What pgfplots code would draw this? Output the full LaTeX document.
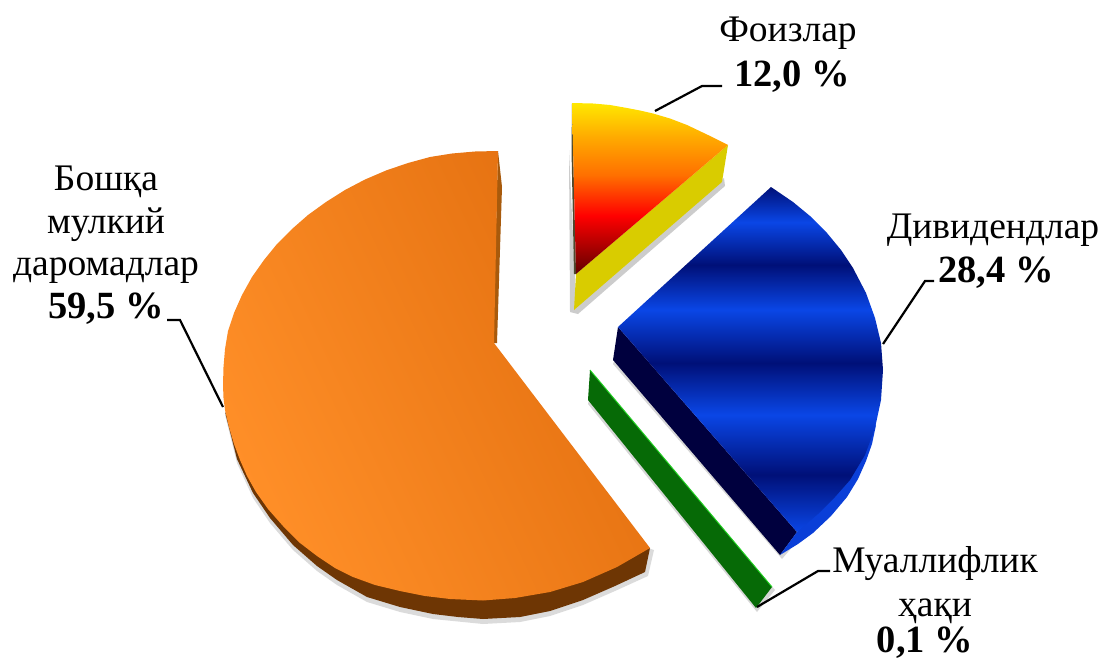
\documentclass[border=0pt]{standalone}
\usepackage{pgfplots}
\pgfplotsset{compat=1.18}
\usepackage{fontspec}
\setmainfont{Liberation Serif}
\definecolor{orL}{HTML}{FF8F28}
\definecolor{orR}{HTML}{E26E0E}
\definecolor{orD}{HTML}{6E3604}
\definecolor{orS}{HTML}{A85A0C}
\definecolor{yel}{HTML}{D9CC00}
\definecolor{navy}{HTML}{00003E}
\definecolor{blu}{HTML}{0A3FD8}
\definecolor{grn}{HTML}{066A06}
\definecolor{grl}{HTML}{20D820}
\definecolor{f0}{HTML}{600000}
\definecolor{f1}{HTML}{FF0000}
\definecolor{f2}{HTML}{FF7000}
\definecolor{f3}{HTML}{FFAA00}
\definecolor{f4}{HTML}{FFE800}
\pgfdeclareverticalshading{foiz}{100bp}{%
 color(0bp)=(f0); color(25bp)=(f0);
 color(42bp)=(f1); color(54bp)=(f2); color(65bp)=(f3); color(75bp)=(f4); color(100bp)=(f4)}
\definecolor{b1}{HTML}{001078}
\definecolor{b2}{HTML}{0A46E6}
\pgfdeclareverticalshading{divid}{100bp}{%
 color(0bp)=(b2); color(25bp)=(b2);
 color(33.3bp)=(b1); color(42bp)=(b2); color(49.5bp)=(b1); color(57.2bp)=(b2); color(63.7bp)=(b1); color(69.9bp)=(b2); color(75bp)=(b1); color(100bp)=(b1)}
\begin{document}
\begin{tikzpicture}
\useasboundingbox (0,0) rectangle (1103pt,661pt);
\begin{axis}[at={(0,0)},anchor=south west,scale only axis,width=1103pt,height=661pt,
  xmin=0,xmax=1103,ymin=0,ymax=661,y dir=reverse,hide axis,clip=false]
% shadows
\addplot[fill=black!16,draw=none,forget plot] coordinates {(588,404)(757,612)(775,590)(595,375)};
\addplot[fill=black!16,draw=none,forget plot] coordinates {(613,364)(782,559)(800,538)(625,335)};
\addplot[fill=black!20,draw=none,forget plot] coordinates {(569,150)(570,312)(578,314)(725,186)(724,178)(576,300)};
\addplot[fill=black!14,draw=none,forget plot] coordinates {(225,415)(237,463)(253,498)(270,523)(293,550)(317,571)(337,585)(367,602)(400,612)(433,619)(483,624)(520,622)(550,616)(583,605)(615,591)(648,576)(654,550)};
% orange side
\addplot[fill=orD,draw=none,forget plot] coordinates {(225,412)(237,459)(253,493)(270,518)(293,545)(317,566)(337,580)(367,597)(400,607)(433,614)(458,617)(483,619)(520,617)(550,611)(583,600)(615,586)(645,572)(650,548)(600,570)(500,590)(380,570)(280,500)};
\addplot[fill=orS,draw=none,forget plot] coordinates {(498,151)(502,187)(497,343)(493,343)};
% orange top
\addplot[shading=axis,bottom color=orL,top color=orR,shading angle=-65,draw=none,forget plot] coordinates {
(498,151)(475,151.5)(452,153.5)(430,157)(408,163)(386,170.5)(365,179.5)(345,190)(326,202)(308,215)(292,229)(277,244)(264,260)(252,277)(242,295)(234,313)(228,331)(225,349)(223.5,367)(223,385)(223.5,398)(225,410)(229,427)(234,444)(240,460)(247,476)(256,492)(268,509)(283,526)(300,543)(317,556)(335,568)(353,577)(375,585)(400,591)(425,596)(450,599)(483,600.5)(515,598)(550,592)(583,582)(617,567)(650,548)(494,343)};
% foiz
\addplot[fill=yel,draw=none,forget plot] coordinates {(728,145)(722,182)(574,310)(576,274)};
\addplot[fill=black!60!olive,draw=none,forget plot] coordinates {(572,103)(571.5,150)(574,274)(576,274)};
\addplot[shading=foiz,draw=none,forget plot] coordinates {(572,103)(593,103.5)(610,105)(627,108)(640,110.5)(653,113.5)(670,118.5)(687,125)(708,135)(728,145)(576,274)};
% dividend
\addplot[fill=navy,draw=none,forget plot] coordinates {(618,327)(613,360)(780,555)(797,532)};
\addplot[fill=blu,draw=none,forget plot] coordinates {(780,555)(798,544)(813,533)(831,516)(847,497)(858,479)(866,461)(872,444)(876,425)(860,440)(797,532)};
\addplot[shading=divid,draw=none,forget plot] coordinates {(771,187)(793,202)(810,216)(827,233)(841,250)(853,268)(866,293)(875,318)(881,343)(883,370)(881,400)(875,428)(865,455)(850,480)(835,497)(818,514)(797,532)(618,327)};
% green
\addplot[fill=grn,draw=none,forget plot] coordinates {(590,370)(772,587)(756,608)(588,400)};
\addplot[draw=grl,line width=0.9pt,forget plot] coordinates {(590,370)(772,587)};
% leaders
\addplot[black,line width=2.2pt,forget plot] coordinates {(655,111)(702,86)(722,86)};
\addplot[black,line width=2.2pt,forget plot] coordinates {(883,344)(925,281)(934,281)};
\addplot[black,line width=2.2pt,forget plot] coordinates {(223,407)(180,320)(167,320)};
\addplot[black,line width=2.2pt,forget plot] coordinates {(757,607)(818,571)(830,571)};
% labels
\def\fs{\fontsize{37.5}{44}\selectfont}
\def\fb{\fontsize{38.5}{44}\selectfont\bfseries}
\tikzset{lab/.style={anchor=base,inner sep=0pt}}
\node[lab,font=\fs] at (axis cs:788,42) {Фоизлар};
\node[lab,font=\fb] at (axis cs:792,86) {12,0 \%};
\node[lab,font=\fs] at (axis cs:993,238) {Дивидендлар};
\node[lab,font=\fb] at (axis cs:996,282) {28,4 \%};
\node[lab,font=\fs] at (axis cs:106,190) {Бошқа};
\node[lab,font=\fs] at (axis cs:106,233) {мулкий};
\node[lab,font=\fs] at (axis cs:106,275) {даромадлар};
\node[lab,font=\fb] at (axis cs:106,318) {59,5 \%};
\node[lab,font=\fs] at (axis cs:935,572) {Муаллифлик};
\node[lab,font=\fs] at (axis cs:935,616) {ҳақи};
\node[lab,font=\fb] at (axis cs:925,652) {0,1 \%};
\end{axis}
\end{tikzpicture}
\end{document}
